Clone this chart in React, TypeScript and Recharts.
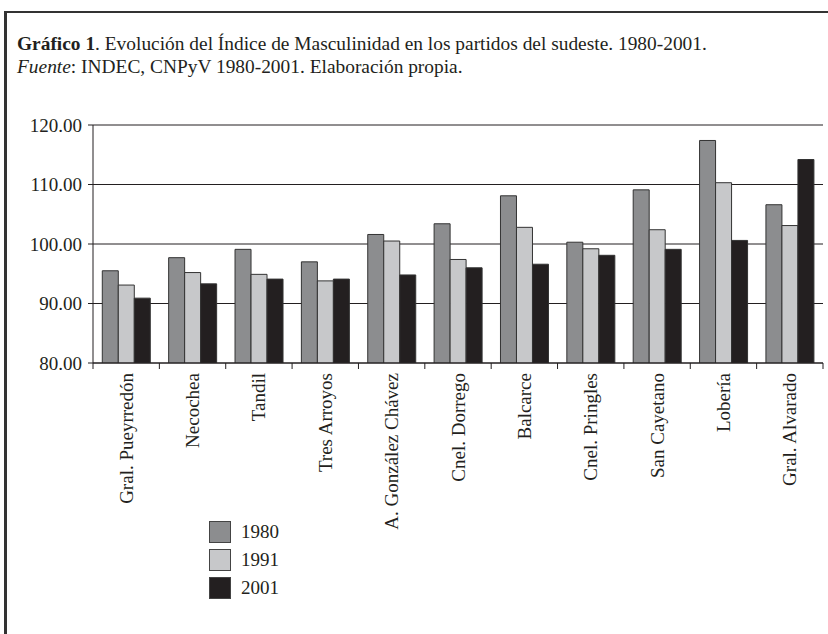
import { BarChart, Bar, XAxis, YAxis, CartesianGrid, Legend } from 'recharts';

const partidos = [
  'Gral. Pueyrredón',
  'Necochea',
  'Tandil',
  'Tres Arroyos',
  'A. González Chávez',
  'Cnel. Dorrego',
  'Balcarce',
  'Cnel. Pringles',
  'San Cayetano',
  'Lobería',
  'Gral. Alvarado',
];

const im1980 = [95.5, 97.7, 99.1, 97.0, 101.6, 103.4, 108.1, 100.3, 109.1, 117.4, 106.6];
const im1991 = [93.1, 95.2, 94.9, 93.8, 100.5, 97.4, 102.8, 99.2, 102.4, 110.3, 103.1];
const im2001 = [90.9, 93.3, 94.1, 94.1, 94.8, 96.0, 96.6, 98.1, 99.1, 100.6, 114.2];

const yTicks = [80, 90, 100, 110, 120];

const series = [
  { key: 'y1980', name: '1980', fill: '#8c8d8f' },
  { key: 'y1991', name: '1991', fill: '#c7c8ca' },
  { key: 'y2001', name: '2001', fill: '#231f20' },
];

const FONT = '"Liberation Serif", "Times New Roman", serif';
const INK = '#231f20';

const data = partidos.map((p, i) => ({
  partido: p,
  y1980: im1980[i],
  y1991: im1991[i],
  y2001: im2001[i],
}));

// category labels in the middle, tick marks on the band edges (Excel style)
function PartidoTick(props: any) {
  const { x, y, payload, index, visibleTicksCount } = props;
  const off = payload.offset || 0;
  const axisY = y - 10;
  const isLast = index === (visibleTicksCount ?? partidos.length) - 1;
  return (
    <g>
      <line x1={x - off} x2={x - off} y1={axisY} y2={axisY + 6} stroke={INK} />
      {isLast && <line x1={x + off} x2={x + off} y1={axisY} y2={axisY + 6} stroke={INK} />}
      <text
        x={x}
        y={y}
        transform={`rotate(-90, ${x}, ${y})`}
        textAnchor="end"
        dominantBaseline="central"
        fontFamily={FONT}
        fontSize={19}
        fill={INK}
      >
        {payload.value}
      </text>
    </g>
  );
}

function YearLegend(props: any) {
  const { payload } = props;
  return (
    <div style={{ fontFamily: FONT, fontSize: 19, color: INK }}>
      {payload.map((entry: any) => (
        <div key={entry.value} style={{ display: 'flex', alignItems: 'center', height: 28 }}>
          <span
            style={{
              width: 20,
              height: 20,
              background: entry.color,
              border: '1px solid #444',
              marginRight: 10,
            }}
          />
          <span>{entry.value}</span>
        </div>
      ))}
    </div>
  );
}

export default function App() {
  return (
    <div style={{ position: 'relative', width: 828, height: 634, overflow: 'hidden', background: '#fff' }}>
      <style>{'body{margin:0}'}</style>
      <div
        style={{
          position: 'absolute',
          left: 4,
          top: 11,
          width: 900,
          height: 700,
          borderLeft: '3px solid #333',
          borderTop: '2px solid #333',
        }}
      />
      <div
        style={{
          position: 'absolute',
          left: 17,
          top: 33,
          fontFamily: FONT,
          fontSize: 19.4,
          lineHeight: '22.7px',
          color: INK,
          whiteSpace: 'nowrap',
        }}
      >
        <div>
          <b>Gráfico 1</b>. Evolución del Índice de Masculinidad en los partidos del sudeste. 1980-2001.
        </div>
        <div>
          <i>Fuente</i>: INDEC, CNPyV 1980-2001. Elaboración propia.
        </div>
      </div>
      <div style={{ position: 'absolute', left: 0, top: 0 }}>
        <BarChart
          width={828}
          height={634}
          data={data}
          margin={{ top: 125, right: 5, left: 0, bottom: 71 }}
          barCategoryGap="14%"
          barGap={0}
        >
          <CartesianGrid vertical={false} stroke={INK} strokeWidth={1} yAxisId="l" />
          <XAxis
            dataKey="partido"
            interval={0}
            height={200}
            tickLine={false}
            tickSize={6}
            tickMargin={4}
            axisLine={{ stroke: INK }}
            tick={<PartidoTick />}
          />
          <YAxis
            yAxisId="l"
            width={93}
            domain={[80, 120]}
            ticks={yTicks}
            allowDataOverflow
            tickFormatter={(v: number) => v.toFixed(2)}
            tickSize={5}
            tickMargin={6}
            tickLine={{ stroke: INK }}
            axisLine={{ stroke: INK }}
            tick={{ fontFamily: FONT, fontSize: 19, fill: INK }}
          />
          <YAxis
            yAxisId="r"
            orientation="right"
            width={0}
            domain={[80, 120]}
            tick={false}
            tickLine={false}
            axisLine={{ stroke: INK }}
          />
          <Legend
            layout="vertical"
            verticalAlign="middle"
            align="center"
            wrapperStyle={{ left: 209, top: 518, width: 100 }}
            content={<YearLegend />}
          />
          {series.map((s) => (
            <Bar
              key={s.key}
              dataKey={s.key}
              name={s.name}
              yAxisId="l"
              fill={s.fill}
              stroke="#333"
              strokeWidth={1}
              isAnimationActive={false}
            />
          ))}
        </BarChart>
      </div>
    </div>
  );
}
